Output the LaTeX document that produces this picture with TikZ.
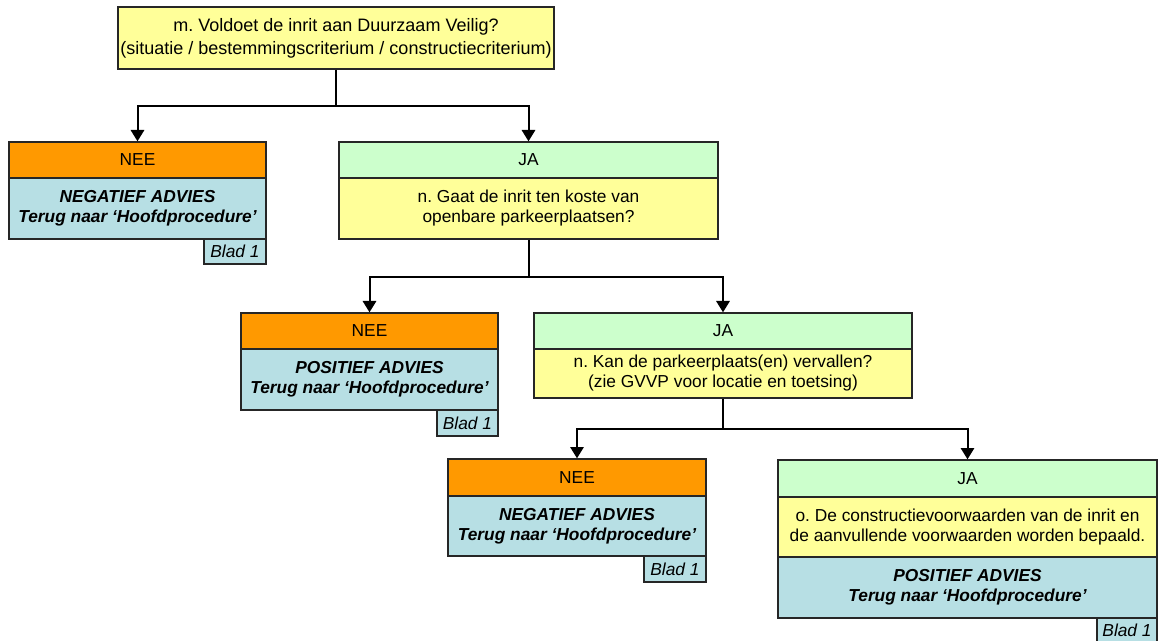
\documentclass[tikz,border=0pt]{standalone}
\usepackage{fontspec}
\setmainfont{Liberation Sans}
\frenchspacing
\usetikzlibrary{arrows.meta,calc}
\definecolor{qyellow}{HTML}{FFFF99}
\definecolor{neeorange}{HTML}{FF9900}
\definecolor{jagreen}{HTML}{CCFFCC}
\definecolor{advblue}{HTML}{B7DFE4}
% box from corner (x1,y1) to corner (x2,y2), y measured downwards
\newcommand\flowbox[7]{%
  \node[cell,#2,minimum width={(#5-#3)*0.75pt},minimum height={(#6-#4)*0.75pt}]
    (#1) at ({(#3+#5)/2},{(#4+#6)/2}) {#7};}
\begin{document}
\begin{tikzpicture}[x=0.75pt,y=-0.75pt,
  cell/.style={draw=black!85,line width=1pt,inner sep=0pt,align=center,
    font=\fontsize{13}{15}\selectfont},
  question/.style={fill=qyellow},
  nee/.style={fill=neeorange},
  ja/.style={fill=jagreen},
  advice/.style={fill=advblue,font=\fontsize{13}{15}\selectfont\bfseries\itshape},
  sheet/.style={fill=advblue,font=\fontsize{13}{15}\selectfont\itshape},
  conn/.style={line width=1.5pt,-{Triangle[width=10pt,length=8.5pt]}}]
\useasboundingbox (0,0) rectangle (1162,641);

% level 1
\flowbox{q1}{question,font=\fontsize{13.5}{17.25}\selectfont}{118}{7}{554}{69}
  {m. Voldoet de inrit aan Duurzaam Veilig?\\(situatie / bestemmingscriterium / constructiecriterium)}
\flowbox{nee1}{nee}{9}{142}{266}{178}{NEE}
\flowbox{adv1}{advice}{9}{178}{266}{239}{NEGATIEF ADVIES\\Terug naar ‘Hoofdprocedure’}
\flowbox{blad1}{sheet}{204}{239}{266}{264}{Blad 1}
\flowbox{ja1}{ja}{339}{142}{718}{178}{JA}
\flowbox{q2}{question}{339}{178}{718}{239}{n. Gaat de inrit ten koste van\\openbare parkeerplaatsen?}

% level 2
\flowbox{nee2}{nee}{241}{313}{498}{349}{NEE}
\flowbox{adv2}{advice}{241}{349}{498}{410}{POSITIEF ADVIES\\Terug naar ‘Hoofdprocedure’}
\flowbox{blad2}{sheet}{437}{410}{498}{436}{Blad 1}
\flowbox{ja2}{ja}{534}{313}{912}{349}{JA}
\flowbox{q3}{question}{534}{349}{912}{398}{n. Kan de parkeerplaats(en) vervallen?\\(zie GVVP voor locatie en toetsing)}

% level 3
\flowbox{nee3}{nee}{448}{459}{706}{496}{NEE}
\flowbox{adv3}{advice}{448}{496}{706}{556}{NEGATIEF ADVIES\\Terug naar ‘Hoofdprocedure’}
\flowbox{blad3}{sheet}{644}{556}{706}{582}{Blad 1}
\flowbox{ja3}{ja}{778}{460}{1157}{497}{JA}
\flowbox{q4}{question}{778}{497}{1157}{557}{o. De constructievoorwaarden van de inrit en\\de aanvullende voorwaarden worden bepaald.}
\flowbox{adv4}{advice}{778}{557}{1157}{618}{POSITIEF ADVIES\\Terug naar ‘Hoofdprocedure’}
\flowbox{blad4}{sheet}{1097}{618}{1157}{643}{Blad 1}

% branching connectors
\coordinate (f1) at ($(q1.south)+(0,36)$);
\draw[conn] (q1.south) -- (f1) -| (nee1.north);
\draw[conn] (f1) -| (ja1.north);
\coordinate (f2) at ($(q2.south)+(0,37)$);
\draw[conn] (q2.south) -- (f2) -| (nee2.north);
\draw[conn] (f2) -| (ja2.north);
\coordinate (f3) at ($(q3.south)+(0,30)$);
\draw[conn] (q3.south) -- (f3) -| (nee3.north);
\draw[conn] (f3) -| (ja3.north);
\end{tikzpicture}
\end{document}
